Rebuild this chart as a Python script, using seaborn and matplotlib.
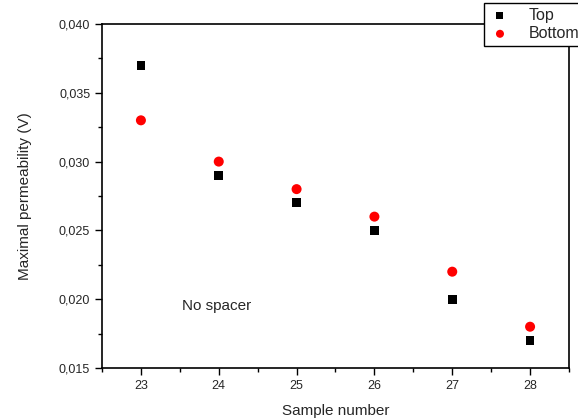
import seaborn as sns
import matplotlib
matplotlib.use("Agg")
import matplotlib.pyplot as plt
import matplotlib.ticker as ticker
import pandas as pd

# values
samples = [23, 24, 25, 26, 27, 28]
top_vals = [0.037, 0.029, 0.027, 0.025, 0.020, 0.017]
bottom_vals = [0.033, 0.030, 0.028, 0.026, 0.022, 0.018]

df = pd.DataFrame({
    "Sample number": samples * 2,
    "value": top_vals + bottom_vals,
    "side": ["Top"] * len(samples) + ["Bottom"] * len(samples),
})

sns.set_style("ticks")
plt.rcParams["font.family"] = ["Liberation Sans", "DejaVu Sans"]

fig = plt.figure(figsize=(5.78, 4.2), dpi=100)
ax = fig.add_axes([102 / 578, 52 / 420, 467 / 578, 344 / 420])

sns.scatterplot(data=df[df.side == "Top"], x="Sample number", y="value",
                marker="s", color="black", s=40, edgecolor="none",
                label="Top", ax=ax, legend=False)
sns.scatterplot(data=df[df.side == "Bottom"], x="Sample number", y="value",
                marker="o", color="red", s=52, edgecolor="none",
                label="Bottom", ax=ax, legend=False)

ax.set_xlim(22.5, 28.5)
ax.set_ylim(0.015, 0.040)
ax.xaxis.set_major_locator(ticker.MultipleLocator(1))
ax.xaxis.set_minor_locator(ticker.MultipleLocator(0.5))
ax.yaxis.set_major_locator(ticker.MultipleLocator(0.005))
ax.yaxis.set_minor_locator(ticker.MultipleLocator(0.0025))
ax.yaxis.set_major_formatter(ticker.FuncFormatter(lambda v, p: f"{v:.3f}".replace(".", ",")))
ax.tick_params(which="major", length=5, width=1, labelsize=9, color="black")
ax.tick_params(which="minor", length=3, width=1, color="black")
for sp in ax.spines.values():
    sp.set_linewidth(1.2)
    sp.set_color("black")

ax.set_xlabel("Sample number", fontsize=11, labelpad=9)
ax.set_ylabel("Maximal permeability (V)", fontsize=11, labelpad=19)

ax.text(23.53, 0.0195, "No spacer", fontsize=11, va="center")

# legend sits partly outside the figure, like the original export
h, l = ax.get_legend_handles_labels()
leg = fig.legend(h, l, loc="upper left", bbox_to_anchor=(484 / 578, 1 - 3 / 420),
                 frameon=True, fancybox=False, fontsize=11.5, borderpad=0.3,
                 handletextpad=1.1, labelspacing=0.2, handlelength=1.4,
                 markerscale=0.8, borderaxespad=0)
leg.get_frame().set_edgecolor("black")
leg.get_frame().set_linewidth(1)
leg.get_frame().set_alpha(1)

fig.savefig("out.png", dpi=100)
